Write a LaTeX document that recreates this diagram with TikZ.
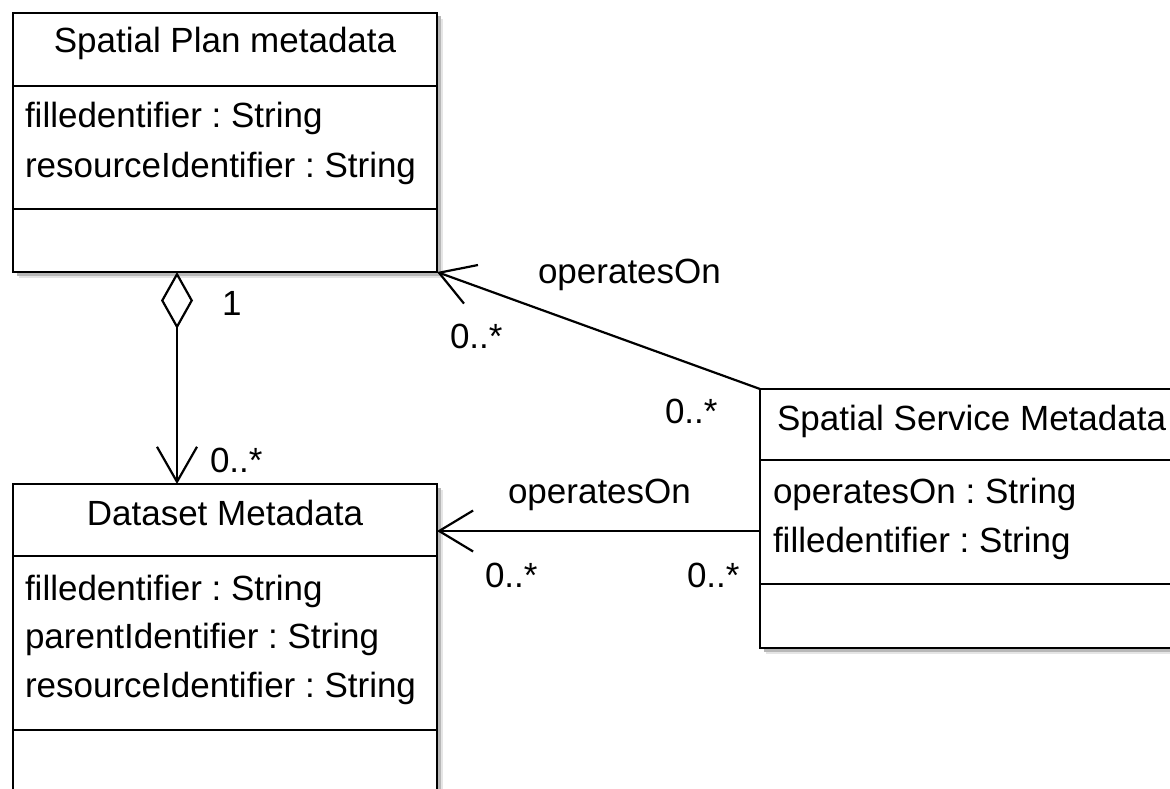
\documentclass[tikz,border=0pt]{standalone}
\usepackage{fontspec}
\setmainfont{Liberation Sans}
\usetikzlibrary{arrows.meta,shadows,calc}
\frenchspacing
\begin{document}
\begin{tikzpicture}[x=1pt,y=-1pt,
  every node/.style={font=\fontsize{35}{42}\selectfont\frenchspacing, inner sep=0pt, outer sep=0pt},
  umlbox/.style={draw, line width=2.8pt, fill=white, rectangle, anchor=north west,
    drop shadow={shadow xshift=6pt, shadow yshift=-6pt, fill=black!10, opacity=1},
    drop shadow={shadow xshift=3.5pt, shadow yshift=-3.5pt, fill=black!28, opacity=1}},
  divl/.style={line width=2.8pt},
  txt/.style={anchor=base west},
  ttl/.style={anchor=base},
  conn/.style={line width=2.2pt},
  barb/.style={-{Straight Barb[length=34pt,width=41pt,line width=2.2pt]}},
  agg/.style={{Diamond[open,length=57pt,width=32pt,line width=2.2pt]}-{Straight Barb[length=35pt,width=40pt,line width=2.2pt]}}]
\path[use as bounding box] (0,0) rectangle (1170,789);
\clip (0,0) rectangle (1170,789);

% class boxes
\node[umlbox, minimum width=424pt, minimum height=259pt] (plan) at (13,13) {};
\node[umlbox, minimum width=424pt, minimum height=360pt] (data) at (13,484) {};
\node[umlbox, minimum width=440pt, minimum height=259pt] (svc) at (760,389) {};

% compartments
\draw[divl] ($(plan.north west)+(0,73)$) -- ($(plan.north east)+(0,73)$);
\draw[divl] ($(plan.north west)+(0,196)$) -- ($(plan.north east)+(0,196)$);
\draw[divl] ($(data.north west)+(0,72)$) -- ($(data.north east)+(0,72)$);
\draw[divl] ($(data.north west)+(0,246)$) -- ($(data.north east)+(0,246)$);
\draw[divl] ($(svc.north west)+(0,71)$) -- ($(svc.north east)+(0,71)$);
\draw[divl] ($(svc.north west)+(0,195)$) -- ($(svc.north east)+(0,195)$);

% texts
\node[ttl] (plant) at (225,53) {Spatial Plan metadata};
\node[txt] (plana1) at (25,128) {filledentifier : String};
\node[txt] (plana2) at (25,177) {resourceIdentifier : String};

\node[ttl] (datat) at (225,525) {Dataset Metadata};
\node[txt] (dataa1) at (25,600) {filledentifier : String};
\node[txt] (dataa2) at (25,648) {parentIdentifier : String};
\node[txt] (dataa3) at (25,697) {resourceIdentifier : String};

\node[txt] (svct) at (777,430) {Spatial Service Metadata};
\node[txt] (svca1) at (773,503) {operatesOn : String};
\node[txt] (svca2) at (773,552) {filledentifier : String};

% connectors
\coordinate (aggx) at (177,0);
\coordinate (lowy) at (0,531);
\draw[conn, agg] (plan.south -| aggx) -- (data.north -| aggx);
\draw[conn, barb] (svc.north west) -- (plan.south east);
\draw[conn, barb] (svc.west |- lowy) -- (data.east |- lowy);

% labels
\node[txt] (m1) at (222,315) {1};
\node[txt] (m2) at (210,472) {0..*};
\node[txt] (op1) at (538,283) {operatesOn};
\node[txt] (m3) at (450,348) {0..*};
\node[txt] (m4) at (665,423) {0..*};
\node[txt] (op2) at (508,503) {operatesOn};
\node[txt] (m5) at (485,587) {0..*};
\node[txt] (m6) at (687,587) {0..*};
\end{tikzpicture}
\end{document}
